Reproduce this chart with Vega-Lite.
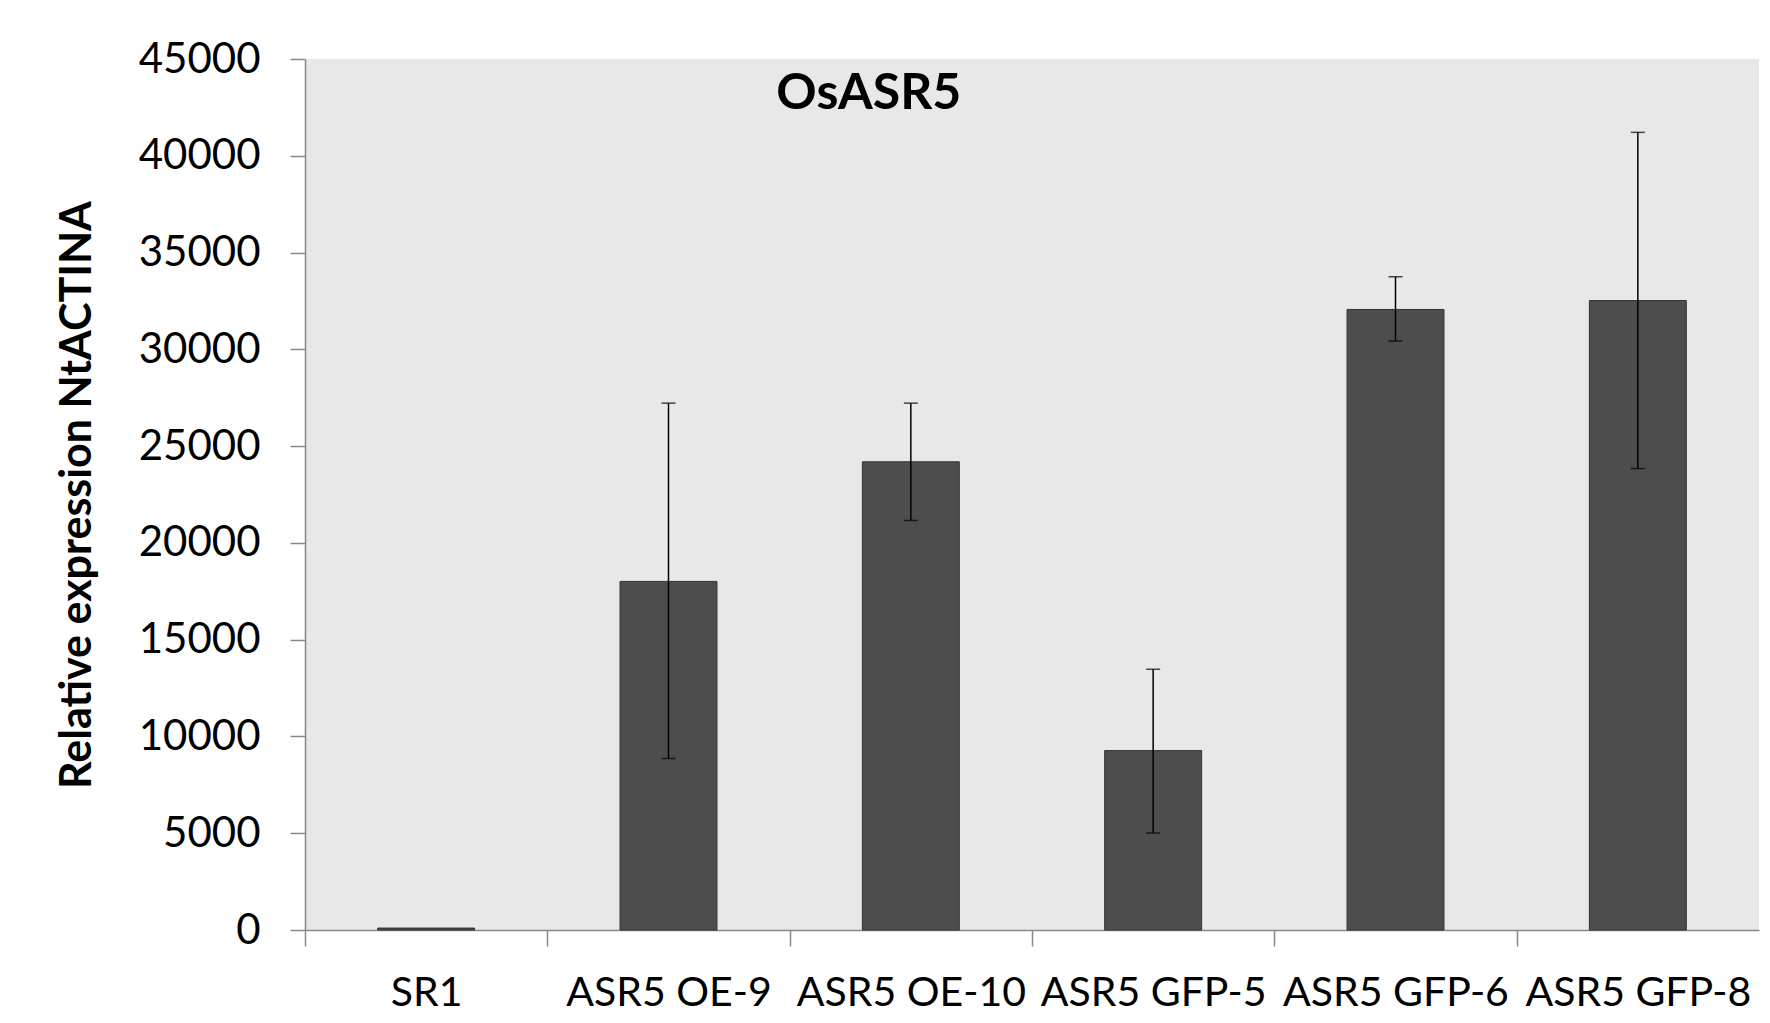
{
  "$schema": "https://vega.github.io/schema/vega-lite/v6.json",
  "autosize": {"type": "none"},
  "padding": {"left": 305, "top": 59, "right": 11, "bottom": 93},
  "width": 1454,
  "height": 871,
  "background": "white",
  "config": {
    "view": {"fill": "#e8e8e8", "stroke": null},
    "font": "Lato"
  },
  "data": {
    "values": [
      {"line": "SR1", "value": 100},
      {"line": "ASR5 OE-9", "value": 18010, "lo": 8860, "hi": 27220},
      {"line": "ASR5 OE-10", "value": 24190, "lo": 21160, "hi": 27220},
      {"line": "ASR5 GFP-5", "value": 9270, "lo": 5010, "hi": 13470},
      {"line": "ASR5 GFP-6", "value": 32060, "lo": 30430, "hi": 33750},
      {"line": "ASR5 GFP-8", "value": 32520, "lo": 23840, "hi": 41210}
    ]
  },
  "encoding": {
    "x": {
      "field": "line",
      "type": "nominal",
      "sort": null,
      "scale": {"paddingInner": 0.6, "paddingOuter": 0.3},
      "axis": {
        "title": null,
        "labelAngle": 0,
        "labelLimit": 0,
        "labelFont": "Lato",
        "labelFontSize": 41,
        "labelColor": "black",
        "labelPadding": 27,
        "tickOffset": -121.17,
        "labelOffset": 121.17,
        "tickSize": 16,
        "tickColor": "#888888",
        "tickWidth": 1.5,
        "domainColor": "#888888",
        "domainWidth": 1.5
      }
    }
  },
  "layer": [
    {
      "mark": {"type": "bar", "fill": "#4d4d4d", "stroke": "#333333", "strokeWidth": 1},
      "encoding": {
        "y": {
          "field": "value",
          "type": "quantitative",
          "scale": {"domain": [0, 45000], "nice": false},
          "axis": {
            "title": "Relative expression NtACTINA",
            "titleFont": "Lato",
            "titleFontSize": 43,
            "titleFontWeight": "bold",
            "titleColor": "black",
            "titlePadding": 39,
            "values": [0, 5000, 10000, 15000, 20000, 25000, 30000, 35000, 40000, 45000],
            "format": "d",
            "labelFont": "Lato",
            "labelFontSize": 42,
            "labelColor": "black",
            "labelPadding": 30,
            "tickSize": 15,
            "tickColor": "#888888",
            "tickWidth": 1.5,
            "domainColor": "#888888",
            "domainWidth": 1.5,
            "grid": false
          }
        }
      }
    },
    {
      "transform": [{"filter": "isValid(datum.lo)"}],
      "mark": {"type": "rule", "color": "black", "strokeWidth": 1.5},
      "encoding": {
        "y": {"field": "lo", "type": "quantitative"},
        "y2": {"field": "hi"}
      }
    },
    {
      "transform": [{"filter": "isValid(datum.lo)"}],
      "mark": {"type": "tick", "color": "black", "size": 14, "thickness": 1.5, "orient": "horizontal"},
      "encoding": {
        "y": {"field": "lo", "type": "quantitative"}
      }
    },
    {
      "transform": [{"filter": "isValid(datum.hi)"}],
      "mark": {"type": "tick", "color": "black", "size": 14, "thickness": 1.5, "orient": "horizontal"},
      "encoding": {
        "y": {"field": "hi", "type": "quantitative"}
      }
    },
    {
      "data": {"values": [{"label": "OsASR5", "line": "ASR5 OE-10", "pos": 43200}]},
      "mark": {"type": "text", "font": "Lato", "fontSize": 50, "fontWeight": "bold", "color": "black", "dx": -42, "baseline": "middle", "align": "center"},
      "encoding": {
        "x": {"field": "line", "type": "nominal", "sort": null},
        "y": {"field": "pos", "type": "quantitative"},
        "text": {"field": "label"}
      }
    }
  ]
}
